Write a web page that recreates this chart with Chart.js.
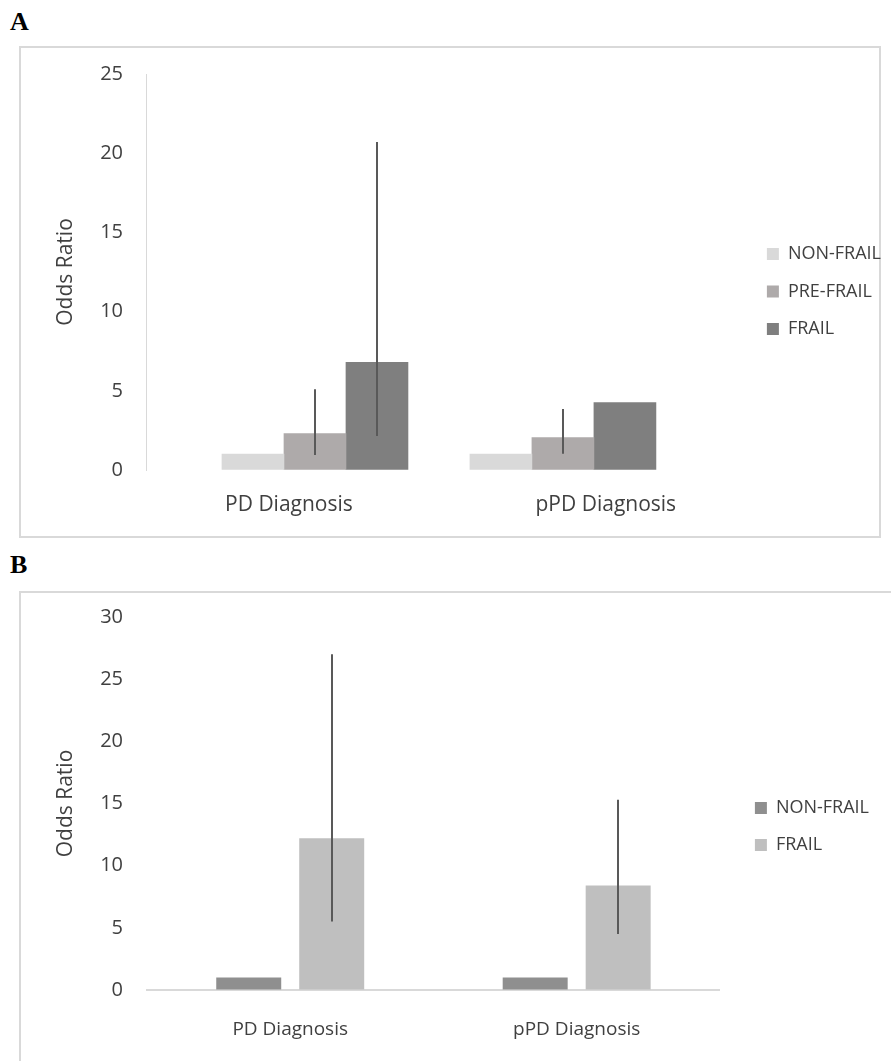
<!DOCTYPE html>
<html><head><meta charset="utf-8">
<script src="https://cdn.jsdelivr.net/npm/chart.js@4.4.1/dist/chart.umd.min.js"></script>
<style>
html,body{margin:0;padding:0;background:#fff;width:891px;height:1061px;overflow:hidden;position:relative;}
.frame{position:absolute;border:2px solid #d9d9d9;box-sizing:border-box;}
.panel{position:absolute;font-family:"Liberation Serif","Times New Roman",serif;font-weight:bold;font-size:26px;line-height:26px;color:#000;}
canvas{position:absolute;left:0;}
</style></head><body>
<div class="panel" style="left:10px;top:9px">A</div>
<div class="frame" style="left:19px;top:46px;width:862px;height:492px"></div>
<div class="panel" style="left:10px;top:552px">B</div>
<div class="frame" style="left:19px;top:591px;width:900px;height:500px"></div>
<canvas id="chartA" width="891" height="491" style="top:47px"></canvas>
<canvas id="chartB" width="891" height="469" style="top:592px"></canvas>
<script>
const categories = ['PD Diagnosis', 'pPD Diagnosis'];

// Panel A
const nonFrailA = [1.0, 1.0];
const preFrailA = [2.3, 2.05];
const frailA = [6.8, 4.25];
const preFrailLowA = [0.95, 1.03];
const preFrailHighA = [5.1, 3.85];
const frailLowA = [2.15, null];
const frailHighA = [20.7, null];
const yTicksA = [0, 5, 10, 15, 20, 25];

// Panel B
const nonFrailB = [1.0, 1.0];
const frailB = [12.2, 8.4];
const frailLowB = [5.5, 4.5];
const frailHighB = [27.0, 15.3];
const yTicksB = [0, 5, 10, 15, 20, 25, 30];

const FONT = '"Open Sans", "DejaVu Sans", sans-serif';
const TEXT = '#404040';
const CLEAR = 'rgba(0,0,0,0)';

const errorBarPlugin = {
  id: 'errorBars',
  afterDatasetsDraw(chart, args, opts) {
    const ctx = chart.ctx;
    const yScale = chart.scales.y;
    ctx.save();
    ctx.strokeStyle = opts.color;
    ctx.lineWidth = opts.width;
    chart.data.datasets.forEach((ds, i) => {
      if (!ds.errLow) return;
      const meta = chart.getDatasetMeta(i);
      meta.data.forEach((bar, j) => {
        const lo = ds.errLow[j], hi = ds.errHigh[j];
        if (lo == null || hi == null) return;
        const x = Math.round(bar.x);
        ctx.beginPath();
        ctx.moveTo(x, yScale.getPixelForValue(lo));
        ctx.lineTo(x, yScale.getPixelForValue(hi));
        ctx.stroke();
      });
    });
    ctx.restore();
  }
};

// Panel A layout (bar groups and category labels are offset differently in the original)
const A_X_MIN = -0.6815, A_X_MAX = 1.744;
const A_LABEL_POS = [-0.105, 1.173];
const toPoints = arr => arr.map((v, i) => ({x: i, y: v}));

const spacer = (pos, size) => ({
  position: pos, display: true, grid: {display: false, drawTicks: false}, border: {display: false},
  ticks: {display: false},
  afterFit: s => { if (pos === 'top' || pos === 'bottom') s.height = size; else s.width = size; }
});

new Chart(document.getElementById('chartA'), {
  type: 'bar',
  data: {
    datasets: [
      {label: 'NON-FRAIL', data: toPoints(nonFrailA), backgroundColor: '#d9d9d9'},
      {label: 'PRE-FRAIL', data: toPoints(preFrailA), backgroundColor: '#aeaaaa', errLow: preFrailLowA, errHigh: preFrailHighA},
      {label: 'FRAIL', data: toPoints(frailA), backgroundColor: '#7f7f7f', errLow: frailLowA, errHigh: frailHighA}
    ]
  },
  options: {
    responsive: false,
    animation: false,
    datasets: {bar: {barThickness: 62}},
    layout: {padding: {top: 15, bottom: 17, left: 0, right: 0}},
    plugins: {
      legend: {position: 'right', labels: {font: {family: FONT, size: 18}, color: TEXT, boxWidth: 12, boxHeight: 12, padding: 19.5}},
      tooltip: {enabled: false},
      errorBars: {color: '#595959', width: 2}
    },
    scales: {
      x: {type: 'linear', display: false, offset: false, min: A_X_MIN, max: A_X_MAX,
          afterBuildTicks: s => { s.ticks = categories.map((c, i) => ({value: i})); }},
      xl: {type: 'linear', position: 'bottom', offset: false, min: A_X_MIN, max: A_X_MAX,
           grid: {display: false, drawTicks: false}, border: {display: false},
           afterBuildTicks: s => { s.ticks = A_LABEL_POS.map(v => ({value: v})); },
           ticks: {autoSkip: false, maxRotation: 0, padding: 22, color: TEXT, font: {family: FONT, size: 21},
                   callback: (v, i) => categories[i]},
           afterFit: s => { s.height = 51; }},
      xt: Object.assign({type: 'linear'}, spacer('top', 12)),
      y: {min: 0, max: 25,
          afterBuildTicks: s => { s.ticks = yTicksA.map(v => ({value: v})); },
          grid: {display: true, drawOnChartArea: false, drawTicks: true, tickLength: 23, color: CLEAR},
          border: {display: true, color: '#d9d9d9', width: 1},
          ticks: {padding: 0, color: TEXT, font: {family: FONT, size: 20}},
          title: {display: true, text: 'Odds Ratio', color: TEXT, font: {family: FONT, size: 21}, padding: {top: 53.4, bottom: 0}},
          afterFit: s => { s.width = 146; }}
    }
  },
  plugins: [errorBarPlugin]
});

new Chart(document.getElementById('chartB'), {
  type: 'bar',
  data: {
    labels: categories,
    datasets: [
      {label: 'NON-FRAIL', data: nonFrailB, backgroundColor: '#8f8f8f'},
      {label: 'FRAIL', data: frailB, backgroundColor: '#bfbfbf', errLow: frailLowB, errHigh: frailHighB}
    ]
  },
  options: {
    responsive: false,
    animation: false,
    datasets: {bar: {categoryPercentage: 0.5794, barPercentage: 0.783}},
    layout: {padding: {top: 16, bottom: 16, left: 0, right: 12}},
    plugins: {
      legend: {position: 'right', labels: {font: {family: FONT, size: 18}, color: TEXT, boxWidth: 12, boxHeight: 12, padding: 19}},
      tooltip: {enabled: false},
      errorBars: {color: '#595959', width: 2}
    },
    scales: {
      x: {grid: {display: false, drawTicks: false},
          border: {display: true, color: '#d9d9d9', width: 2},
          ticks: {autoSkip: false, maxRotation: 0, padding: 28.6, color: TEXT, font: {family: FONT, size: 19}},
          afterFit: s => { s.height = 55; }},
      xt: Object.assign({type: 'linear'}, spacer('top', 9)),
      y: {min: 0, max: 30,
          afterBuildTicks: s => { s.ticks = yTicksB.map(v => ({value: v})); },
          grid: {display: true, drawOnChartArea: false, drawTicks: true, tickLength: 24, color: CLEAR},
          border: {display: false},
          ticks: {padding: 0, color: TEXT, font: {family: FONT, size: 20}},
          title: {display: true, text: 'Odds Ratio', color: TEXT, font: {family: FONT, size: 21}, padding: {top: 53.4, bottom: 0}},
          afterFit: s => { s.width = 147; }},
      y2: Object.assign({type: 'linear'}, spacer('right', 16))
    }
  },
  plugins: [errorBarPlugin]
});
</script>
</body></html>
